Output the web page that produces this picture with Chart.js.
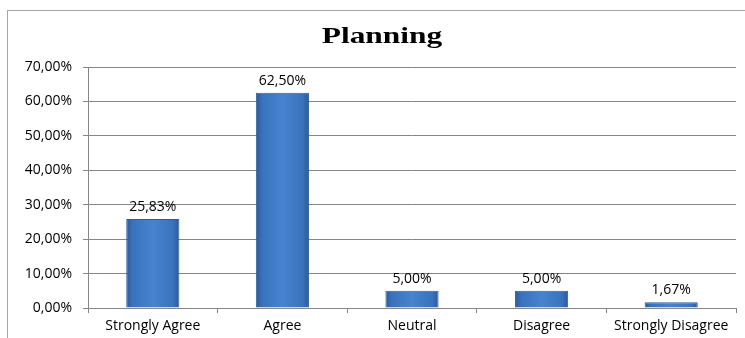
<!DOCTYPE html>
<html>
<head>
<meta charset="utf-8">
<script src="https://cdn.jsdelivr.net/npm/chart.js@4"></script>
<style>
  html, body { margin: 0; padding: 0; background: #fff; overflow: hidden; }
  #frame {
    position: absolute; left: 7px; top: 10px; width: 760px; height: 350px;
    border: 1px solid #a6a6a6; box-sizing: border-box;
  }
  #wrap { position: absolute; left: 0; top: 0; width: 745px; height: 338px; }
</style>
</head>
<body>
<div id="frame"></div>
<div id="wrap"><canvas id="c" width="745" height="338"></canvas></div>
<script>
const chartTitle = 'Planning';
const categories = ['Strongly Agree', 'Agree', 'Neutral', 'Disagree', 'Strongly Disagree'];
const percentages = [25.83, 62.50, 5.00, 5.00, 1.67];
const yTicks = [0, 10, 20, 30, 40, 50, 60, 70];

const BAR_PCT = 0.41;
const LABEL_FONT = '"Open Sans", sans-serif';
const fmt = v => v.toFixed(2).replace('.', ',') + '%';

// Horizontal shading across each bar: darker edges, brighter middle
function barFill(ctx) {
  const chart = ctx.chart;
  const xs = chart.scales && chart.scales.x;
  if (!xs || ctx.dataIndex === undefined) return '#3f78c4';
  const cx = xs.getPixelForValue(ctx.dataIndex);
  const w = (xs.width / categories.length) * BAR_PCT;
  const x0 = cx - w / 2, x1 = cx + w / 2;
  if (!Number.isFinite(x0) || !Number.isFinite(x1) || x1 <= x0) return '#3f78c4';
  const g = chart.ctx.createLinearGradient(x0, 0, x1, 0);
  g.addColorStop(0, '#2b5a98');
  g.addColorStop(0.12, '#3a72bc');
  g.addColorStop(0.5, '#4683d0');
  g.addColorStop(0.88, '#3a72bc');
  g.addColorStop(1, '#2b5a98');
  return g;
}

// Wide bold serif heading above the plot
const wideTitle = {
  id: 'wideTitle',
  afterDraw(chart) {
    const ctx = chart.ctx;
    ctx.save();
    ctx.font = 'bold 24px "Liberation Serif", "Times New Roman", serif';
    ctx.fillStyle = '#000';
    ctx.textAlign = 'center';
    ctx.textBaseline = 'alphabetic';
    ctx.translate(382, 43);
    ctx.scale(1.31, 1);
    ctx.fillText(chartTitle, 0, 0);
    ctx.restore();
  }
};

// Percentage written above each bar
const valueLabels = {
  id: 'valueLabels',
  afterDatasetsDraw(chart) {
    const ctx = chart.ctx;
    const meta = chart.getDatasetMeta(0);
    ctx.save();
    ctx.font = '14px ' + LABEL_FONT;
    ctx.fillStyle = '#000';
    ctx.textAlign = 'center';
    ctx.textBaseline = 'alphabetic';
    meta.data.forEach((bar, i) => {
      ctx.fillText(fmt(percentages[i]), bar.x, bar.y - 8);
    });
    ctx.restore();
  }
};

new Chart(document.getElementById('c'), {
  type: 'bar',
  data: {
    labels: categories,
    datasets: [{
      data: percentages,
      backgroundColor: barFill,
      borderColor: '#2d5d9c',
      borderWidth: 1,
      barPercentage: BAR_PCT,
      categoryPercentage: 1.0
    }]
  },
  options: {
    responsive: false,
    animation: false,
    layout: { padding: { left: 0, right: 9, top: 67, bottom: 0 } },
    plugins: {
      legend: { display: false },
      tooltip: { enabled: false },
      title: { display: false }
    },
    scales: {
      x: {
        grid: { offset: true, drawOnChartArea: false, color: '#868686', tickLength: 5 },
        border: { color: '#868686' },
        ticks: { color: '#000', font: { family: LABEL_FONT, size: 14 }, padding: 5, maxRotation: 0 },
        afterFit(scale) { scale.height = 30; }
      },
      y: {
        min: 0, max: 70,
        afterBuildTicks(scale) { scale.ticks = yTicks.map(v => ({ value: v })); },
        grid: { color: '#868686', tickLength: 5 },
        border: { color: '#868686' },
        ticks: {
          color: '#000',
          font: { family: LABEL_FONT, size: 14 },
          padding: 11,
          callback: v => fmt(v)
        },
        afterFit(scale) { scale.width = 88; }
      }
    }
  },
  plugins: [valueLabels, wideTitle]
});
</script>
</body>
</html>
